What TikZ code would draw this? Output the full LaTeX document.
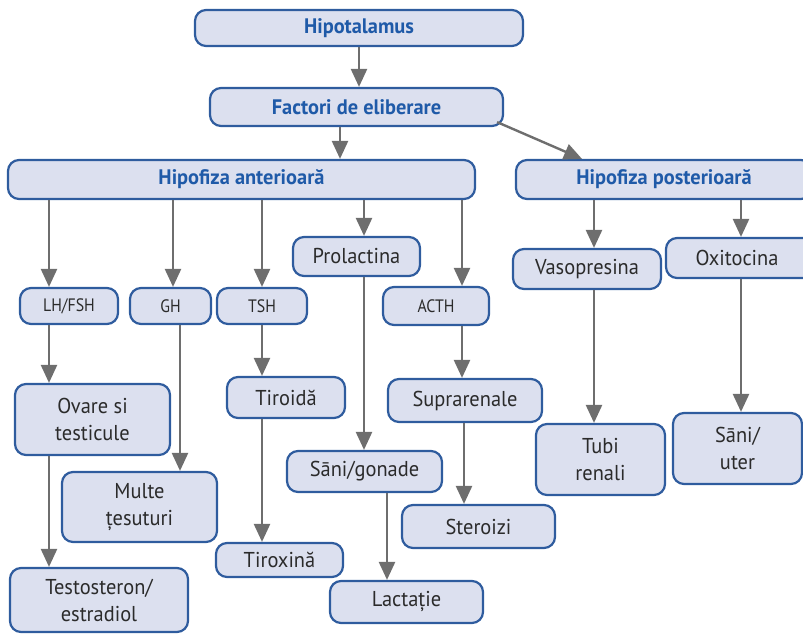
\documentclass[tikz,border=0pt]{standalone}
\usepackage{fontspec}
\setmainfont{PT Sans}
\newfontfamily\titlefont[FakeStretch=0.97]{PT Sans}
\newfontfamily\bodyfont[FakeStretch=0.95]{PT Sans}
\newfontfamily\smallfont[FakeStretch=0.88]{PT Sans}
\usetikzlibrary{arrows.meta}
\definecolor{boxfill}{HTML}{DCE0EF}
\definecolor{boxdraw}{HTML}{2F5C9E}
\definecolor{arr}{HTML}{6E6E6E}
\definecolor{titleblue}{HTML}{1F5AA8}
\definecolor{txt}{HTML}{2B2B2B}
\tikzset{
  box/.style={draw=boxdraw, fill=boxfill, line width=2.2pt, rounded corners=11pt,
    inner sep=0pt, align=center, text=txt,
    font=\bodyfont\fontsize{21.5}{27}\selectfont},
  smallbox/.style={box, font=\smallfont\fontsize{18}{22}\selectfont},
  titlebox/.style={box, text=titleblue, font=\titlefont\bfseries\fontsize{21}{25}\selectfont},
  arrow/.style={draw=arr, line width=2.4pt, -{Triangle[width=16pt,length=18pt]}}
}
\newcommand{\bx}[7]{\node[#1, minimum width=#5pt, minimum height=#6pt] (#2) at (#3,#4) {#7};}
\begin{document}
\begin{tikzpicture}[x=1pt,y=-1pt]
\useasboundingbox (0,0) rectangle (803,633);
% titles
\bx{titlebox}{hyp}{359}{28}{328}{36}{Hipotalamus}
\bx{titlebox}{fact}{356.5}{107}{293}{38}{Factori de eliberare}
\bx{titlebox}{ant}{241.5}{179.5}{467}{39}{Hipofiza anterioară}
\bx{titlebox}{post}{664}{179.5}{296}{39}{Hipofiza posterioară}
% level 2
\bx{smallbox}{lh}{69}{306}{98}{36}{LH/FSH}
\bx{smallbox}{gh}{170.5}{306}{81}{36}{GH}
\bx{smallbox}{tsh}{262}{306}{90}{36}{TSH}
\bx{box}{prl}{356.5}{256.5}{127}{39}{Prolactina}
\bx{smallbox}{acth}{436}{306}{106}{38}{ACTH}
\bx{box}{vaso}{587}{269}{148}{40}{Vasopresina}
\bx{box}{oxi}{741}{258}{150}{40}{\hspace*{-8pt}Oxitocina}
% level 3
\bx{box}{ovare}{92.5}{419.5}{155}{71}{Ovare si\\testicule}
\bx{box}{tiro}{286}{397.5}{118}{41}{Tiroidă}
\bx{box}{supra}{465}{400.5}{154}{43}{Suprarenale}
\bx{box}{tubi}{600.5}{459.5}{129}{71}{Tubi\\renali}
\bx{box}{sanu}{737.5}{448.5}{129}{71}{Sāni/\\uter}
% level 4
\bx{box}{multe}{139.5}{507}{155}{70}{Multe\\țesuturi}
\bx{box}{sanig}{364.5}{471.5}{155}{41}{Sāni/gonade}
\bx{box}{ster}{478.5}{526.5}{153}{43}{Steroizi}
\bx{box}{tirx}{279.5}{560}{127}{34}{Tiroxină}
\bx{box}{lact}{406.5}{602}{153}{42}{Lactație}
\bx{box}{testo}{99}{600}{178}{64}{Testosteron/\\estradiol}
% column coordinates
\coordinate (c49) at (49,0);
\coordinate (c173) at (173,0);
\coordinate (c180) at (180,0);
\coordinate (c262) at (262,0);
\coordinate (c340) at (340,0);
\coordinate (c359) at (359,0);
\coordinate (c364) at (364,0);
\coordinate (c387) at (387,0);
\coordinate (c462) at (462,0);
\coordinate (c464) at (464,0);
\coordinate (c582) at (582,0);
\coordinate (c594) at (594,0);
\coordinate (c741) at (741,0);
% connectors
\draw[arrow] (hyp.south -| c359) -- (fact.north -| c359);
\draw[arrow] (fact.south -| c340) -- (ant.north -| c340);
\draw[arrow] ([shift={(-7,-5)}]fact.south east) -- (post.north -| c582);
\draw[arrow] (ant.south -| c49) -- (lh.north -| c49);
\draw[arrow] (ant.south -| c173) -- (gh.north -| c173);
\draw[arrow] (ant.south -| c262) -- (tsh.north -| c262);
\draw[arrow] (ant.south -| c364) -- (prl.north -| c364);
\draw[arrow] (ant.south -| c462) -- (acth.north -| c462);
\draw[arrow] (post.south -| c594) -- (vaso.north -| c594);
\draw[arrow] (post.south -| c741) -- (oxi.north -| c741);
\draw[arrow] (lh.south -| c49) -- (ovare.north -| c49);
\draw[arrow] (gh.south -| c180) -- (multe.north -| c180);
\draw[arrow] (tsh.south -| c262) -- (tiro.north -| c262);
\draw[arrow] (tiro.south -| c262) -- (tirx.north -| c262);
\draw[arrow] (prl.south -| c364) -- (sanig.north -| c364);
\draw[arrow] (sanig.south -| c387) -- (lact.north -| c387);
\draw[arrow] (acth.south -| c462) -- (supra.north -| c462);
\draw[arrow] (supra.south -| c464) -- (ster.north -| c464);
\draw[arrow] (vaso.south -| c594) -- (tubi.north -| c594);
\draw[arrow] (oxi.south -| c741) -- (sanu.north -| c741);
\draw[arrow] (ovare.south -| c49) -- (testo.north -| c49);
\end{tikzpicture}
\end{document}
